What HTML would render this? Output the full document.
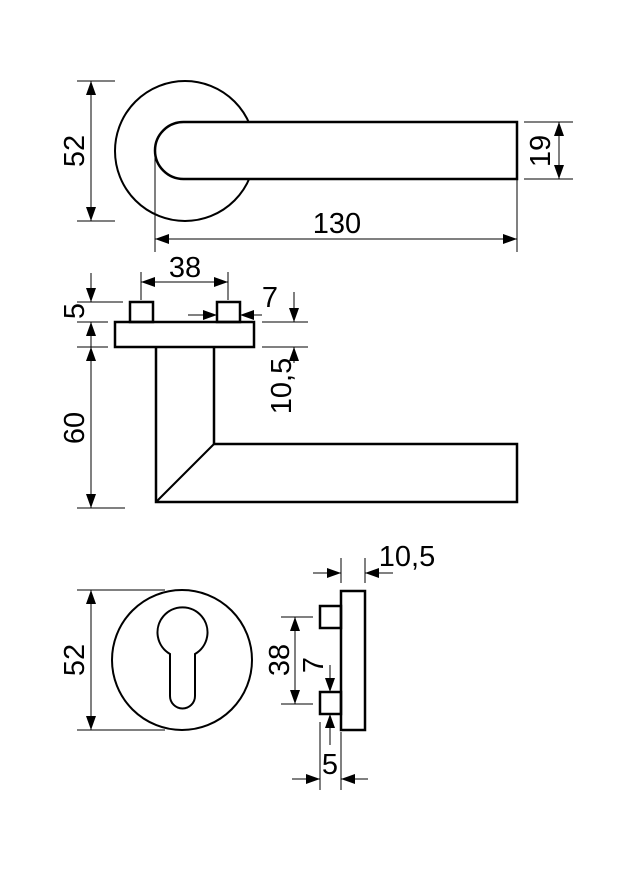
<!DOCTYPE html>
<html><head><meta charset="utf-8"><style>
html,body{margin:0;padding:0;background:#fff;}
svg{display:block;}
text{font-family:"Liberation Sans",Arial,sans-serif;font-size:29px;fill:#000;}
</style></head><body>
<svg width="631" height="870" viewBox="0 0 631 870" xmlns="http://www.w3.org/2000/svg">
<defs>
<marker id="a" viewBox="0 0 14 10" refX="14" refY="5" markerWidth="14" markerHeight="10" markerUnits="userSpaceOnUse" orient="auto"><path d="M0,0 L14,5 L0,10 z" fill="#000"/></marker>
</defs>
<g fill="none" stroke="#000">
<circle cx="185" cy="151" r="70" stroke-width="2"/>
<path d="M183.5,122 H517 V179 H183.5 A28.5,28.5 0 0 1 183.5,122 Z" fill="#fff" stroke-width="2.5"/>
<g stroke-width="1">
<line x1="77" y1="81" x2="115" y2="81"/><line x1="77" y1="221" x2="115" y2="221"/>
<line x1="91" y1="151" x2="91" y2="81" marker-end="url(#a)"/><line x1="91" y1="151" x2="91" y2="221" marker-end="url(#a)"/>
<line x1="155" y1="152" x2="155" y2="252"/><line x1="517" y1="179" x2="517" y2="252"/>
<line x1="336" y1="239" x2="155" y2="239" marker-end="url(#a)"/><line x1="336" y1="239" x2="517" y2="239" marker-end="url(#a)"/>
<line x1="524" y1="122" x2="573" y2="122"/><line x1="524" y1="179" x2="573" y2="179"/>
<line x1="559" y1="150" x2="559" y2="122" marker-end="url(#a)"/><line x1="559" y1="150" x2="559" y2="179" marker-end="url(#a)"/>
</g>
<g stroke-width="2.5">
<rect x="115" y="322" width="139" height="25"/>
<rect x="130" y="302" width="23" height="20"/>
<rect x="217" y="302" width="23" height="20"/>
<path d="M156,347 V502 H517 V444 H214 V347"/>
<line x1="214" y1="444" x2="156" y2="502" stroke-width="2"/>
</g>
<g stroke-width="1">
<line x1="141" y1="272" x2="141" y2="300"/><line x1="228" y1="272" x2="228" y2="300"/>
<line x1="185" y1="282" x2="141" y2="282" marker-end="url(#a)"/><line x1="185" y1="282" x2="228" y2="282" marker-end="url(#a)"/>
<line x1="77" y1="302" x2="123" y2="302"/><line x1="77" y1="322" x2="108" y2="322"/><line x1="77" y1="347" x2="108" y2="347"/>
<line x1="91" y1="273" x2="91" y2="302" marker-end="url(#a)"/><line x1="91" y1="350" x2="91" y2="322" marker-end="url(#a)"/>
<line x1="91" y1="425" x2="91" y2="347" marker-end="url(#a)"/><line x1="91" y1="425" x2="91" y2="508" marker-end="url(#a)"/>
<line x1="77" y1="508" x2="125" y2="508"/>
<line x1="188" y1="315" x2="217" y2="315" marker-end="url(#a)"/><line x1="262" y1="315" x2="240" y2="315" marker-end="url(#a)"/>
<line x1="262" y1="322" x2="308" y2="322"/><line x1="262" y1="347" x2="308" y2="347"/>
<line x1="294" y1="292" x2="294" y2="322" marker-end="url(#a)"/><line x1="294" y1="363" x2="294" y2="347" marker-end="url(#a)"/>
</g>
<circle cx="182" cy="660" r="70" stroke-width="2"/>
<path d="M170,654 A25,25 0 1 1 195,654 V696 A12.5,12.5 0 0 1 170,696 Z" stroke-width="2"/>
<g stroke-width="1">
<line x1="77" y1="590" x2="165" y2="590"/><line x1="77" y1="730" x2="165" y2="730"/>
<line x1="91" y1="660" x2="91" y2="590" marker-end="url(#a)"/><line x1="91" y1="660" x2="91" y2="730" marker-end="url(#a)"/>
</g>
<g stroke-width="2.5">
<rect x="341" y="591" width="24" height="139"/>
<rect x="320" y="606" width="21" height="22"/>
<rect x="320" y="692" width="21" height="22"/>
</g>
<g stroke-width="1">
<line x1="341" y1="558" x2="341" y2="583"/><line x1="365" y1="558" x2="365" y2="583"/>
<line x1="313" y1="573" x2="341" y2="573" marker-end="url(#a)"/><line x1="393" y1="573" x2="365" y2="573" marker-end="url(#a)"/>
<line x1="281" y1="617" x2="313" y2="617"/><line x1="281" y1="704" x2="313" y2="704"/>
<line x1="295" y1="660" x2="295" y2="617" marker-end="url(#a)"/><line x1="295" y1="660" x2="295" y2="704" marker-end="url(#a)"/>
<line x1="330" y1="665" x2="330" y2="692" marker-end="url(#a)"/><line x1="330" y1="745" x2="330" y2="714" marker-end="url(#a)"/>
<line x1="320" y1="722" x2="320" y2="790"/><line x1="341" y1="732" x2="341" y2="790"/>
<line x1="292" y1="779" x2="320" y2="779" marker-end="url(#a)"/><line x1="368" y1="779" x2="341" y2="779" marker-end="url(#a)"/>
</g>
</g>
<text x="84" y="151" text-anchor="middle" transform="rotate(-90 84 151)">52</text>
<text x="337" y="233" text-anchor="middle">130</text>
<text x="550" y="151" text-anchor="middle" transform="rotate(-90 550 151)">19</text>
<text x="185" y="277" text-anchor="middle">38</text>
<text x="84" y="311" text-anchor="middle" transform="rotate(-90 84 311)">5</text>
<text x="270" y="307" text-anchor="middle">7</text>
<text x="291" y="386" text-anchor="middle" transform="rotate(-90 291 386)">10,5</text>
<text x="84" y="428" text-anchor="middle" transform="rotate(-90 84 428)">60</text>
<text x="84" y="660" text-anchor="middle" transform="rotate(-90 84 660)">52</text>
<text x="407" y="566" text-anchor="middle">10,5</text>
<text x="289" y="660" text-anchor="middle" transform="rotate(-90 289 660)">38</text>
<text x="323" y="665" text-anchor="middle" transform="rotate(-90 323 665)">7</text>
<text x="330" y="774" text-anchor="middle">5</text>
</svg>
</body></html>
